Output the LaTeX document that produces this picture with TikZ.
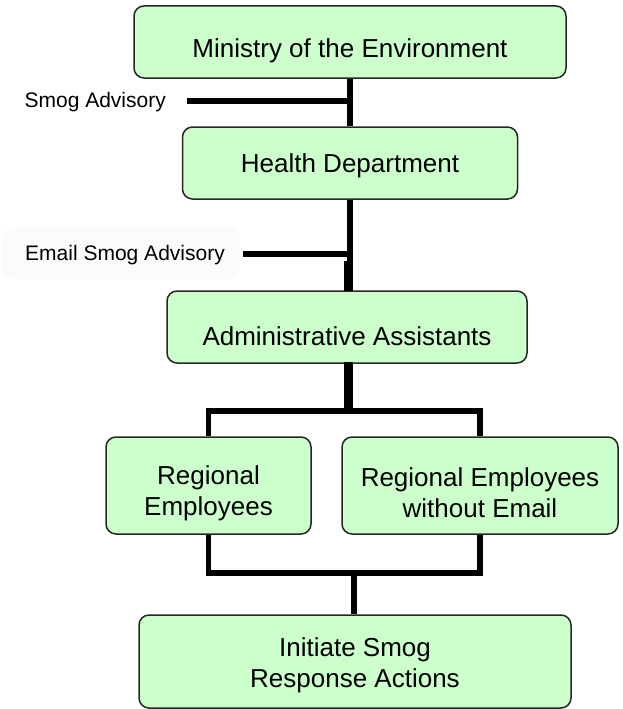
\documentclass[tikz,border=0pt]{standalone}
\usepackage{fontspec}
\setmainfont{Liberation Sans}
\definecolor{boxgreen}{HTML}{CCFFCC}
\definecolor{labelbg}{HTML}{FBFBFB}
\begin{document}
\begin{tikzpicture}[x=1pt,y=-1pt,
  box/.style={draw=black!85, line width=1.5pt, rounded corners=10pt, fill=boxgreen, inner sep=0pt},
  boxtext/.style={font=\fontsize{26}{31}\selectfont, align=center, inner sep=0pt, text=black},
  lbl/.style={font=\fontsize{21}{25}\selectfont, inner sep=0pt, anchor=east, text=black},
  conn/.style={line width=5.5pt, black},
  thickconn/.style={line width=9pt, black}]
\useasboundingbox (0,0) rectangle (622,709);
% faint background behind label
\node[fill=labelbg, rounded corners=12pt, minimum width=238pt, minimum height=52pt, inner sep=0pt] (lblbg) at (121,253) {};
% boxes
\node[box, minimum width=432pt, minimum height=72pt] (min) at (350,42) {};
\node[boxtext] (mint) at (350,51) {Ministry of the Environment};
\node[box, minimum width=335pt, minimum height=72pt] (hea) at (350,163) {};
\node[boxtext] (heat) at (350,166) {Health Department};
\node[box, minimum width=360pt, minimum height=72pt] (adm) at (347,327) {};
\node[boxtext] (admt) at (347,336) {Administrative Assistants};
\node[box, minimum width=205pt, minimum height=97pt] (reg) at (208.5,485.5) {};
\node[boxtext] (regt) at (208.5,493) {Regional\\Employees};
\node[box, minimum width=276pt, minimum height=97pt] (rgx) at (480,485.5) {};
\node[boxtext] (rgxt) at (480,493) {Regional Employees\\without Email};
\node[box, minimum width=432pt, minimum height=93pt] (ini) at (355,661.5) {};
\node[boxtext] (init) at (355,665) {Initiate Smog\\Response Actions};
% labels
\node[lbl] (smog) at (166,102) {Smog Advisory};
\node[lbl] (email) at (225,255) {Email Smog Advisory};
% coordinates
\coordinate (smogend) at (187,101);
\coordinate (smogj) at (350,101);
\coordinate (emailend) at (243,254);
\coordinate (emailj) at (350,254);
\coordinate (jog) at (350,263);
\coordinate (jogb) at (348.5,261);
\coordinate (admtop) at (348.5,291);
\coordinate (admbot) at (348.5,362);
\coordinate (brj) at (348.5,411);
\coordinate (brl) at (208.5,411);
\coordinate (brr) at (480,411);
\coordinate (botj) at (354,573);
% connectors
\draw[conn] (min.south) -- (hea.north);
\draw[conn] (smogend) -- (smogj);
\draw[conn] (hea.south) -- (jog);
\draw[thickconn] (jogb) -- (admtop);
\draw[conn] (emailend) -- (emailj);
\draw[thickconn] (admbot) -- ([yshift=3pt]brj);
\draw[conn] (reg.north) -- (reg.north |- brl) -- (rgx.north |- brr) -- (rgx.north);
\draw[conn] (reg.south) -- (reg.south |- botj) -- (rgx.south |- botj) -- (rgx.south);
\draw[conn] (botj) -- (botj |- ini.north);
\end{tikzpicture}
\end{document}
